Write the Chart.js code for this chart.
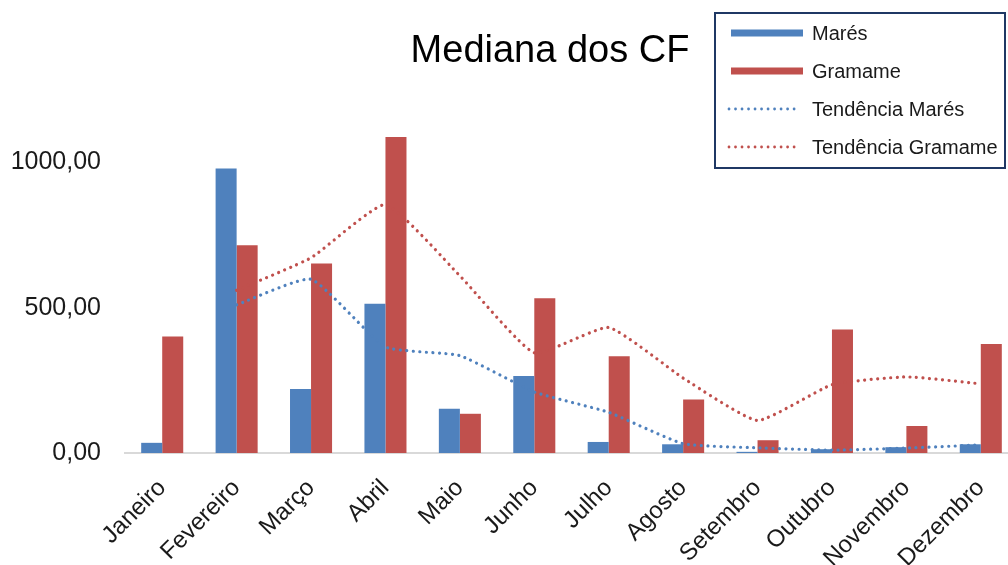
<!DOCTYPE html>
<html>
<head>
<meta charset="utf-8">
<script src="https://cdn.jsdelivr.net/npm/chart.js@4/dist/chart.umd.min.js"></script>
<style>
  html, body { margin: 0; padding: 0; background: #fff; overflow: hidden; }
  #wrap { position: absolute; left: 0; top: 0; width: 1030px; height: 565px; }
</style>
</head>
<body>
<div id="wrap"><canvas id="chart" width="1030" height="565"></canvas></div>
<script>
// values
const months = ['Janeiro', 'Fevereiro', 'Março', 'Abril', 'Maio', 'Junho',
                'Julho', 'Agosto', 'Setembro', 'Outubro', 'Novembro', 'Dezembro'];
const mares = [35, 979, 220, 514, 152, 265, 38, 30, 4, 13, 20, 30];
const gramame = [401, 715, 652, 1088, 135, 533, 333, 184, 44, 425, 93, 375];
const tendMares = [null, 510, 598, 365, 335, 210, 140, 32, 18, 10, 17, 28];
const tendGramame = [null, 560, 672, 855, 610, 345, 432, 258, 112, 235, 262, 238];
const yTicks = [0, 500, 1000];

const BLUE = '#4F81BD';
const RED = '#C0504D';
const FONT = "'Liberation Sans', Arial, sans-serif";

// title and boxed legend drawn on top of the chart area, like the original
const overlay = {
    id: 'overlay',
    afterDraw(chart) {
        const ctx = chart.ctx;
        ctx.save();
        ctx.fillStyle = '#000';
        ctx.font = '38px ' + FONT;
        ctx.textAlign = 'center';
        ctx.textBaseline = 'alphabetic';
        ctx.fillText('Mediana dos CF', 550, 62);

        // legend box
        ctx.fillStyle = '#fff';
        ctx.fillRect(715, 13, 290, 155);
        ctx.strokeStyle = '#1F3864';
        ctx.lineWidth = 2;
        ctx.strokeRect(715, 13, 290, 155);

        const items = [
            { label: 'Marés', color: BLUE, dotted: false, y: 33 },
            { label: 'Gramame', color: RED, dotted: false, y: 71 },
            { label: 'Tendência Marés', color: BLUE, dotted: true, y: 109 },
            { label: 'Tendência Gramame', color: RED, dotted: true, y: 147 }
        ];
        items.forEach(it => {
            ctx.strokeStyle = it.color;
            ctx.beginPath();
            if (it.dotted) {
                ctx.lineWidth = 2.8;
                ctx.lineCap = 'round';
                ctx.setLineDash([0.01, 6.5]);
                ctx.moveTo(729, it.y);
                ctx.lineTo(799, it.y);
            } else {
                ctx.lineWidth = 7;
                ctx.lineCap = 'butt';
                ctx.setLineDash([]);
                ctx.moveTo(731, it.y);
                ctx.lineTo(803, it.y);
            }
            ctx.stroke();
            ctx.setLineDash([]);
            ctx.fillStyle = '#1a1a1a';
            ctx.font = '20px ' + FONT;
            ctx.textAlign = 'left';
            ctx.textBaseline = 'middle';
            ctx.fillText(it.label, 812, it.y + 1);
        });
        ctx.restore();
    }
};

const dots = { borderWidth: 3.2, borderDash: [0.01, 6.5], borderCapStyle: 'round',
               pointRadius: 0, fill: false, tension: 0.15, order: 0 };

new Chart(document.getElementById('chart'), {
    type: 'bar',
    data: {
        labels: months,
        datasets: [
            { label: 'Marés', data: mares, backgroundColor: BLUE, order: 1 },
            { label: 'Gramame', data: gramame, backgroundColor: RED, order: 1 },
            Object.assign({ type: 'line', label: 'Tendência Marés', data: tendMares, borderColor: BLUE }, dots),
            Object.assign({ type: 'line', label: 'Tendência Gramame', data: tendGramame, borderColor: RED }, dots)
        ]
    },
    options: {
        responsive: false,
        animation: false,
        layout: { padding: { left: 0, right: 12, top: 12, bottom: 0 } },
        datasets: { bar: { categoryPercentage: 0.565, barPercentage: 1.0 } },
        plugins: { legend: { display: false }, title: { display: false }, tooltip: { enabled: false } },
        scales: {
            x: {
                grid: { display: false },
                border: { display: true, color: '#d9d9d9', width: 2 },
                ticks: { color: '#1a1a1a', font: { family: FONT, size: 24 },
                         minRotation: 45, maxRotation: 45, autoSkip: false, padding: 13 },
                afterFit(scale) { scale.height = 112; }
            },
            y: {
                min: 0, max: 1425,
                grid: { display: false, drawTicks: false },
                border: { display: false },
                afterBuildTicks(scale) { scale.ticks = yTicks.map(v => ({ value: v })); },
                ticks: {
                    padding: 24, color: '#1a1a1a',
                    font: { family: FONT, size: 25 },
                    callback: v => v.toFixed(2).replace('.', ',')
                },
                afterFit(scale) { scale.width = 125; }
            }
        }
    },
    plugins: [overlay]
});
</script>
</body>
</html>
